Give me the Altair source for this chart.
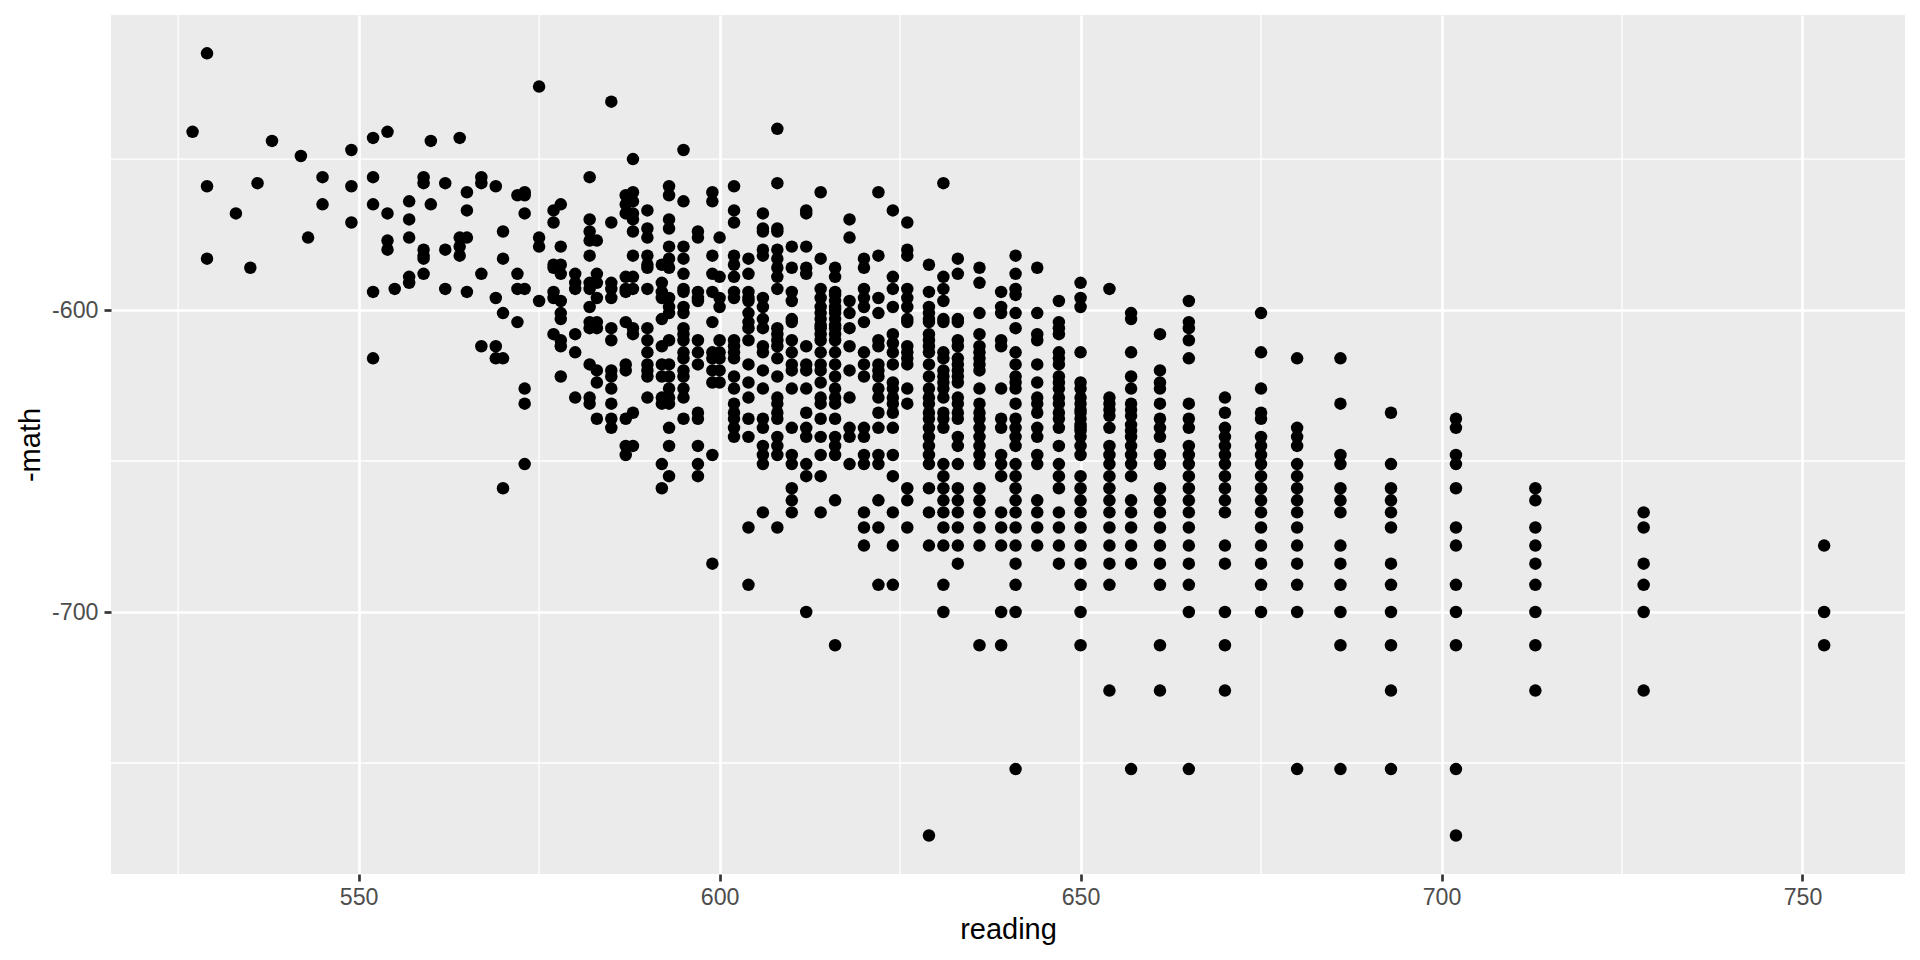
import altair as alt
import pandas as pd

reading_levels = [527, 529, 533, 535, 536, 538, 542, 543, 545, 549, 552, 554, 555, 557, 559, 560, 562, 564, 565, 567, 569, 570, 572, 573, 575, 577, 578, 580, 582, 583, 585, 587, 588, 590, 592, 593, 595, 597, 599, 600, 602, 604, 606, 608, 610, 612, 614, 616, 618, 620, 622, 624, 626, 629, 631, 633, 636, 639, 641, 644, 647, 650, 654, 657, 661, 665, 670, 675, 680, 686, 693, 702, 713, 728, 753]

math_levels = [
    [541],
    [515, 559, 583],
    [568],
    [586],
    [558],
    [544],
    [549],
    [576],
    [556, 565],
    [547, 559, 571],
    [543, 556, 565, 594, 616],
    [541, 568, 577, 580],
    [593],
    [564, 570, 576, 589, 591],
    [556, 558, 580, 582, 583, 588],
    [544, 565],
    [558, 580, 593],
    [543, 576, 579, 582],
    [561, 567, 576, 594],
    [556, 558, 588, 612],
    [559, 596, 612, 616],
    [574, 583, 601, 616, 659],
    [562, 588, 593, 604],
    [561, 562, 568, 593, 626, 631, 651],
    [526, 576, 579, 597],
    [567, 571, 585, 586, 594, 596, 608],
    [565, 579, 585, 588, 597, 601, 603, 610, 612, 622],
    [588, 591, 593, 608, 614, 629],
    [556, 570, 574, 577, 582, 591, 593, 599, 604, 606, 618, 629, 631],
    [577, 588, 591, 596, 604, 606, 620, 624, 636],
    [531, 571, 591, 593, 596, 606, 610, 620, 622, 626, 631, 636, 639],
    [562, 565, 568, 589, 593, 594, 604, 618, 620, 636, 645, 648],
    [550, 561, 564, 568, 570, 574, 582, 589, 593, 606, 608, 634, 645],
    [567, 573, 576, 582, 585, 586, 593, 606, 610, 614, 618, 620, 622, 629],
    [585, 591, 594, 596, 603, 612, 618, 622, 629, 631, 651, 659],
    [559, 562, 570, 573, 579, 583, 586, 596, 599, 601, 610, 618, 622, 626, 629, 631, 639, 645, 655],
    [547, 564, 579, 583, 588, 593, 594, 599, 601, 606, 608, 610, 614, 616, 620, 622, 626, 629, 636],
    [574, 576, 594, 596, 597, 610, 614, 618, 634, 636, 645, 651, 655],
    [561, 564, 582, 588, 594, 604, 614, 616, 620, 624, 648, 684],
    [576, 589, 596, 599, 610, 614, 616, 620, 624],
    [559, 567, 571, 582, 585, 589, 594, 596, 610, 612, 614, 616, 622, 626, 631, 634, 636, 639, 642],
    [583, 588, 594, 596, 597, 601, 604, 606, 610, 618, 624, 629, 636, 642, 672, 691],
    [568, 573, 574, 580, 582, 596, 599, 603, 606, 612, 614, 620, 626, 636, 639, 645, 648, 651, 667],
    [540, 558, 573, 574, 580, 583, 586, 589, 593, 606, 608, 610, 612, 616, 622, 629, 631, 634, 636, 642, 645, 648, 672],
    [579, 586, 594, 597, 603, 604, 610, 614, 618, 620, 626, 639, 648, 651, 659, 663, 667],
    [567, 568, 579, 586, 588, 612, 618, 620, 626, 634, 639, 642, 651, 655, 700],
    [561, 583, 593, 596, 599, 601, 603, 605, 606, 608, 610, 614, 618, 620, 624, 629, 631, 636, 642, 648, 655, 667],
    [586, 589, 594, 595, 597, 599, 600, 601, 603, 605, 606, 608, 610, 614, 618, 622, 626, 629, 631, 636, 642, 645, 648, 663, 711],
    [570, 576, 597, 601, 606, 612, 620, 629, 639, 642, 651],
    [583, 586, 593, 596, 599, 604, 614, 618, 622, 639, 642, 648, 651, 667, 672, 678],
    [561, 582, 596, 601, 610, 612, 618, 620, 622, 626, 629, 634, 639, 648, 651, 663, 672, 691],
    [567, 589, 593, 599, 608, 611, 614, 618, 624, 626, 629, 631, 634, 639, 648, 655, 667, 678, 691],
    [571, 580, 582, 593, 596, 599, 603, 604, 612, 614, 616, 618, 626, 631, 659, 663, 672],
    [585, 594, 599, 601, 603, 604, 608, 610, 612, 614, 618, 622, 626, 629, 631, 634, 636, 639, 642, 645, 648, 651, 659, 667, 678, 774],
    [558, 589, 593, 597, 603, 604, 614, 616, 620, 622, 624, 626, 629, 634, 636, 639, 651, 655, 659, 663, 667, 672, 678, 691, 700],
    [583, 588, 603, 604, 610, 612, 616, 618, 620, 622, 624, 629, 631, 634, 636, 642, 645, 651, 659, 663, 667, 672, 678, 684],
    [586, 591, 601, 608, 612, 614, 616, 618, 620, 626, 631, 634, 636, 639, 642, 645, 648, 651, 659, 663, 667, 672, 678, 711],
    [594, 599, 601, 610, 612, 626, 636, 639, 648, 651, 655, 667, 672, 678, 700, 711],
    [582, 588, 593, 595, 601, 606, 614, 618, 622, 624, 626, 631, 636, 639, 642, 645, 651, 655, 659, 663, 667, 672, 678, 684, 691, 700, 752],
    [586, 601, 608, 610, 618, 624, 629, 631, 634, 639, 642, 648, 651, 663, 667, 672, 678],
    [597, 604, 606, 608, 614, 616, 618, 622, 624, 626, 629, 631, 634, 636, 639, 645, 651, 655, 659, 667, 672, 678, 684],
    [591, 596, 599, 614, 624, 626, 629, 631, 633, 634, 636, 638, 639, 640, 642, 645, 648, 655, 659, 663, 667, 672, 678, 684, 691, 700, 711],
    [593, 629, 631, 633, 635, 639, 645, 648, 651, 655, 659, 663, 667, 672, 678, 684, 691, 726],
    [601, 603, 614, 622, 626, 631, 633, 635, 638, 640, 642, 645, 648, 651, 655, 663, 667, 672, 678, 684, 752],
    [608, 620, 624, 626, 631, 636, 639, 642, 648, 651, 659, 663, 667, 672, 678, 684, 691, 711, 726],
    [597, 604, 606, 610, 616, 631, 636, 639, 645, 648, 651, 655, 659, 663, 667, 672, 678, 684, 691, 700, 752],
    [629, 634, 639, 642, 645, 648, 651, 655, 659, 663, 667, 678, 684, 700, 711, 726],
    [601, 614, 626, 634, 636, 642, 645, 648, 651, 655, 659, 663, 667, 672, 678, 684, 691, 700],
    [616, 639, 642, 645, 651, 655, 659, 663, 667, 672, 678, 684, 691, 700, 752],
    [616, 631, 648, 651, 659, 663, 667, 678, 684, 691, 700, 711, 752],
    [634, 651, 659, 663, 667, 672, 684, 691, 700, 711, 726, 752],
    [636, 639, 648, 651, 659, 672, 678, 691, 700, 711, 752, 774],
    [659, 663, 672, 678, 684, 691, 700, 711, 726],
    [667, 672, 684, 691, 700, 726],
    [678, 700, 711],
]

x_major = [550, 600, 650, 700, 750]
x_minor = [525, 575, 625, 675, 725]
y_major = [-600, -700]
y_minor = [-550, -650, -750]
x_domain = [515.7, 764.2]
y_domain = [-786.75, -502.3]

rows = [{"reading": r, "neg_math": -m} for r, ms in zip(reading_levels, math_levels) for m in ms]
df = pd.DataFrame(rows)

FONT = "Liberation Sans"
x_scale = alt.Scale(domain=x_domain, nice=False, zero=False)
y_scale = alt.Scale(domain=y_domain, nice=False, zero=False)

x_axis = alt.Axis(
    values=x_major, title="reading", grid=True, gridColor="white", gridWidth=2.67,
    domain=False, tickColor="#333333", tickWidth=2.67, tickSize=7,
    labelColor="#4D4D4D", labelFont=FONT, labelFontSize=23.2, labelPadding=5,
    labelExpr="'' + datum.value", labelOverlap=False,
    titleColor="black", titleFont=FONT, titleFontSize=29, titleFontWeight="normal", titlePadding=7,
)
y_axis = alt.Axis(
    values=y_major, title="-math", grid=True, gridColor="white", gridWidth=2.67,
    domain=False, tickColor="#333333", tickWidth=2.67, tickSize=7,
    labelColor="#4D4D4D", labelFont=FONT, labelFontSize=23.2, labelPadding=6,
    labelExpr="'' + datum.value", labelOverlap=False,
    titleColor="black", titleFont=FONT, titleFontSize=29, titleFontWeight="normal", titlePadding=6,
)

minor_v = alt.Chart(pd.DataFrame({"v": x_minor})).mark_rule(color="white", strokeWidth=1.33).encode(
    x=alt.X("v:Q", scale=x_scale, axis=x_axis))
minor_h = alt.Chart(pd.DataFrame({"v": y_minor})).mark_rule(color="white", strokeWidth=1.33).encode(
    y=alt.Y("v:Q", scale=y_scale, axis=y_axis))
points = alt.Chart(df).mark_circle(color="black", opacity=1, size=156).encode(
    x=alt.X("reading:Q", scale=x_scale, axis=x_axis),
    y=alt.Y("neg_math:Q", scale=y_scale, axis=y_axis),
)

chart = alt.layer(minor_v, minor_h, points).resolve_scale(x="shared", y="shared").properties(
    width=1794, height=859,
    autosize=alt.AutoSizeParams(type="none"),
    padding={"left": 103, "top": 7, "right": 7, "bottom": 78},
    background="white",
).configure_view(fill="#EBEBEB", stroke=None)

chart.save("out.html", embed_options={"renderer": "svg", "actions": False})
